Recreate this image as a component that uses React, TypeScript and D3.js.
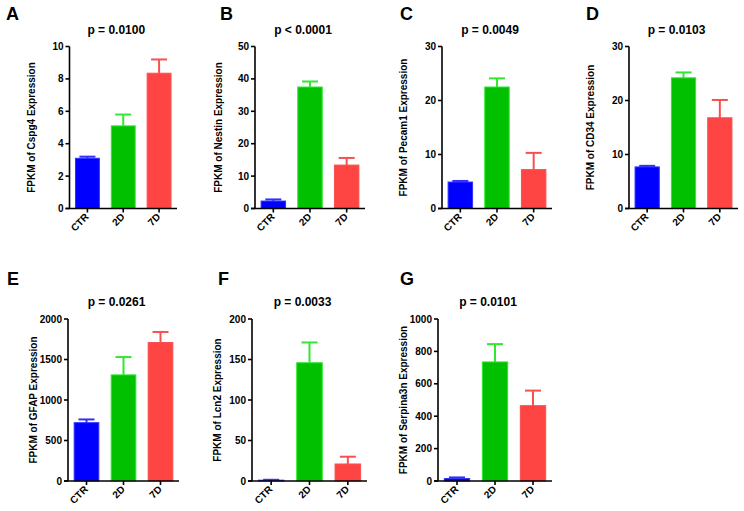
import React from "react";
import * as d3 from "d3";

const categories = ["CTR", "2D", "7D"];
const panelLetters = ["A", "B", "C", "D", "E", "F", "G"];
const genes = ["Cspg4", "Nestin", "Pecam1", "CD34", "GFAP", "Lcn2", "Serpina3n"];
const pLabels = ["p = 0.0100", "p < 0.0001", "p = 0.0049", "p = 0.0103", "p = 0.0261", "p = 0.0033", "p = 0.0101"];
const yMaxes = [10, 50, 30, 30, 2000, 200, 1000];
const tickSteps = [2, 10, 10, 10, 500, 50, 200];

// group means per panel (A..G)
const ctrMeans = [3.1, 2.3, 4.9, 7.7, 720, 1, 15];
const d2Means = [5.1, 37.5, 22.5, 24.2, 1310, 146, 735];
const d7Means = [8.35, 13.4, 7.2, 16.8, 1710, 21, 465];
// upper error (SEM) per panel
const ctrErr = [0.1, 0.5, 0.2, 0.2, 40, 0.5, 7];
const d2Err = [0.7, 1.7, 1.6, 1.0, 220, 25, 110];
const d7Err = [0.85, 2.2, 3.1, 3.3, 130, 9, 93];

const fills = ["#0000ff", "#00c000", "#ff4444"];
const strokes = ["#3030ff", "#30e830", "#f85050"];

// layout (positions only)
const axisLeft = [69.5, 255, 442, 629, 68, 252, 438];
const axisRight = [177, 365, 552, 738, 179, 367, 552];
const rowTop = [46.5, 46.5, 46.5, 46.5, 319, 319, 319];
const rowBottom = [208.5, 208.5, 208.5, 208.5, 481, 481, 481];
const letterX = [6, 220, 400, 586, 7, 218, 400];
const letterY = [20, 20, 20, 20, 285, 285, 285];
const labelOffset = [38, 37, 39, 39, 35, 35, 35];

const FONT = "'Liberation Sans', Arial, Helvetica, sans-serif";

function Panel({ i }: { i: number }) {
  const x0 = axisLeft[i];
  const x1 = axisRight[i];
  const top = rowTop[i];
  const bottom = rowBottom[i];
  const means = [ctrMeans[i], d2Means[i], d7Means[i]];
  const errs = [ctrErr[i], d2Err[i], d7Err[i]];
  const x = d3.scaleBand<string>().domain(categories).range([x0, x1]).paddingInner(1 / 3).paddingOuter(1 / 6);
  const y = d3.scaleLinear().domain([0, yMaxes[i]]).range([bottom, top]);
  const ticks = d3.range(0, yMaxes[i] + tickSteps[i] / 2, tickSteps[i]);
  const bw = x.bandwidth();
  return (
    <g fontFamily={FONT} fontWeight="bold">
      <text x={letterX[i]} y={letterY[i]} fontSize={18} fill="#000">{panelLetters[i]}</text>
      <text x={(x0 + x1) / 2 - 7} y={top - 13} fontSize={12} textAnchor="middle" fill="#000">{pLabels[i]}</text>
      <text
        transform={`translate(${x0 - labelOffset[i]},${(top + bottom) / 2}) rotate(-90)`}
        textAnchor="middle"
        dy="0.35em"
        fontSize={10}
        fill="#000"
      >{`FPKM of ${genes[i]} Expression`}</text>
      {categories.map((c, k) => {
        const cx = (x(c) as number) + bw / 2;
        const yT = y(means[k]);
        const yE = y(means[k] + errs[k]);
        return (
          <g key={c}>
            <line x1={cx} x2={cx} y1={yT} y2={yE} stroke={strokes[k]} strokeWidth={2} />
            <line x1={cx - 8} x2={cx + 8} y1={yE} y2={yE} stroke={strokes[k]} strokeWidth={2} />
            <rect x={x(c)} y={yT} width={bw} height={bottom - yT} fill={fills[k]} stroke={strokes[k]} strokeWidth={1} />
          </g>
        );
      })}
      <line x1={x0} x2={x0} y1={top} y2={bottom} stroke="#000" strokeWidth={1.6} />
      <line x1={x0 - 4} x2={x1} y1={bottom} y2={bottom} stroke="#000" strokeWidth={1.6} />
      {ticks.map((t) => (
        <g key={t}>
          <line x1={x0 - 4} x2={x0} y1={y(t)} y2={y(t)} stroke="#000" strokeWidth={1.6} />
          <text x={x0 - 6} y={y(t)} dy="0.35em" textAnchor="end" fontSize={10} fill="#000">{t}</text>
        </g>
      ))}
      {categories.map((c) => {
        const cx = (x(c) as number) + bw / 2;
        return (
          <g key={"t" + c}>
            <line x1={cx} x2={cx} y1={bottom} y2={bottom + 4} stroke="#000" strokeWidth={1.6} />
            <text transform={`translate(${cx + 2},${bottom + 9}) rotate(-45)`} textAnchor="end" fontSize={10} fill="#000">{c}</text>
          </g>
        );
      })}
    </g>
  );
}

export default function App() {
  return (
    <svg width={744} height={511} style={{ position: "absolute", left: 0, top: 0, background: "#fff" }}>
      <rect width={744} height={511} fill="#fff" />
      {panelLetters.map((_, i) => <Panel key={i} i={i} />)}
    </svg>
  );
}
